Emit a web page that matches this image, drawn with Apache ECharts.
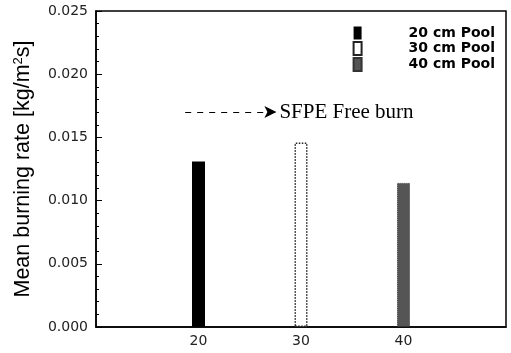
<!DOCTYPE html>
<html><head><meta charset="utf-8">
<script src="https://cdn.jsdelivr.net/npm/echarts@6/dist/echarts.min.js"></script>
<style>html,body{margin:0;padding:0;background:#fff}#c{width:511px;height:353px}</style>
</head><body><div id="c"></div>
<script>
const poolSizes = [20, 30, 40];
const seriesNames = ['20 cm Pool', '30 cm Pool', '40 cm Pool'];
const burningRates = [0.0131, 0.0146, 0.0114];
const sfpeValue = 0.017;
const sfpeSpan = [18.7, 27.6];
const yTicks = [0, 0.005, 0.010, 0.015, 0.020, 0.025];

const styles = [
  {color: '#000', borderColor: '#000', borderWidth: 0},
  {color: '#fff', borderColor: '#222', borderWidth: 1.5, borderType: 'dotted'},
  {color: '#555', borderColor: '#333', borderWidth: 1, borderType: 'dotted'}
];

const chart = echarts.init(document.getElementById('c'));
const series = seriesNames.map((n, i) => ({
  name: n,
  type: 'bar',
  barWidth: 13,
  barGap: '-100%',
  data: [[poolSizes[i], burningRates[i]]],
  itemStyle: styles[i],
  z: 3
}));
series[0].markLine = {
  silent: true,
  symbol: ['none', 'arrow'],
  symbolSize: [9, 12],
  lineStyle: {color: '#000', type: [6, 6], width: 1},
  label: {show: true, position: 'end', formatter: 'SFPE Free burn', fontFamily: 'Liberation Serif', fontSize: 21, color: '#000', distance: 3},
  data: [[{coord: [sfpeSpan[0], sfpeValue]}, {coord: [sfpeSpan[1], sfpeValue]}]]
};

chart.setOption({
  animation: false,
  backgroundColor: '#fff',
  grid: {left: 96, right: 5, top: 11, bottom: 26, show: true, borderColor: '#000', borderWidth: 1.5},
  legend: {
    right: 11, top: 21, orient: 'vertical', itemWidth: 8, itemHeight: 13, itemGap: 1,
    icon: 'rect', align: 'left',
    formatter: n => '{g| }{t|' + n + '}',
    textStyle: {lineHeight: 13, rich: {
      g: {width: 42, fontSize: 12, lineHeight: 13},
      t: {fontFamily: 'DejaVu Sans', fontWeight: 'bold', fontSize: 14, lineHeight: 13, color: '#000'}
    }},
    data: seriesNames
  },
  xAxis: {
    type: 'value', min: 10, max: 50, interval: 10,
    axisLine: {lineStyle: {color: '#000', width: 1.5}},
    axisTick: {show: false},
    splitLine: {show: false},
    axisLabel: {fontFamily: 'DejaVu Sans', fontSize: 14, color: '#222', margin: 7,
      formatter: v => poolSizes.includes(v) ? String(v) : ''}
  },
  yAxis: {
    type: 'value', min: yTicks[0], max: yTicks[yTicks.length - 1], interval: 0.005,
    name: '{a|Mean burning rate [kg/m}{s|2}{a|s]}',
    nameLocation: 'middle', nameGap: 61, nameRotate: 90,
    nameTextStyle: {rich: {
      a: {fontFamily: 'Liberation Sans', fontSize: 21.5, color: '#000'},
      s: {fontFamily: 'Liberation Sans', fontSize: 13, color: '#000', verticalAlign: 'top', padding: [0, 0, 10, 0]}
    }},
    axisLine: {show: true, lineStyle: {color: '#000', width: 1.5}},
    axisTick: {show: true, inside: true, length: 6, lineStyle: {color: '#000'}},
    minorTick: {show: true, splitNumber: 5, length: 3, lineStyle: {color: '#000'}},
    splitLine: {show: false},
    axisLabel: {fontFamily: 'DejaVu Sans', fontSize: 14, color: '#222', margin: 8,
      formatter: v => v.toFixed(3)}
  },
  series: series
});
</script></body></html>
